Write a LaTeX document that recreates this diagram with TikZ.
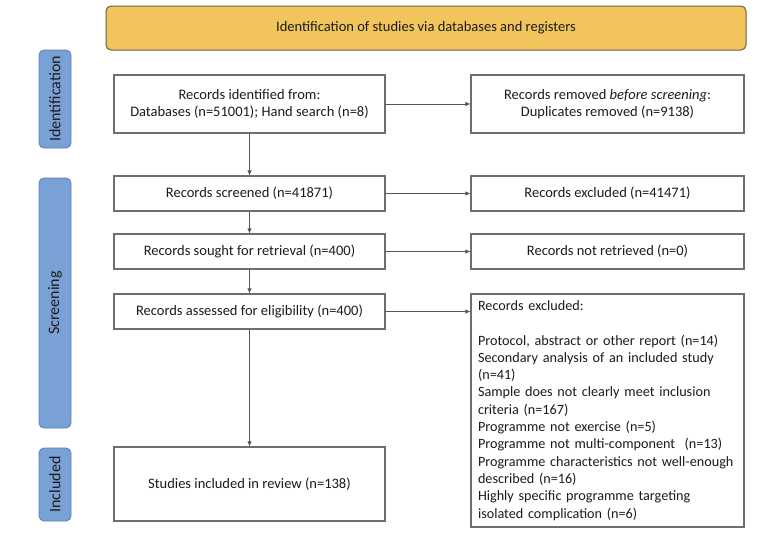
\documentclass[tikz,border=0pt]{standalone}
\usepackage{fontspec}
\setmainfont{Carlito}
\usetikzlibrary{arrows.meta}
\definecolor{bannerfill}{HTML}{F2C55C}
\definecolor{bannerline}{HTML}{6B5E45}
\definecolor{barfill}{HTML}{79A1D5}
\definecolor{barline}{HTML}{5A7FB5}
\definecolor{boxline}{HTML}{6E6E6E}
\definecolor{txt}{HTML}{1C1C1C}
\definecolor{arrowline}{HTML}{555555}
\begin{document}
\begin{tikzpicture}[x=1pt,y=-1pt,
  every node/.style={text=txt,font=\fontsize{14.5}{17.3}\selectfont},
  banner/.style={draw=bannerline,fill=bannerfill,rounded corners=5pt,line width=1pt,
    minimum width=640pt,minimum height=44pt,inner sep=0pt,font=\fontsize{14.5}{17}\selectfont},
  sidebar/.style={draw=barline,fill=barfill,rounded corners=5pt,line width=0.8pt,
    rotate=90,minimum height=32pt,inner sep=0pt,font=\fontsize{16}{18}\selectfont,text=txt},
  flowbox/.style={draw=boxline,line width=1.1pt,fill=white,inner sep=0pt,align=center},
  lbox/.style={flowbox,minimum width=271pt},
  rbox/.style={flowbox,minimum width=273pt},
  conn/.style={draw=arrowline,line width=0.7pt,-{Latex[length=5pt,width=4.5pt]}}
]
\useasboundingbox (0,0) rectangle (768,536);
\fill[white] (0,0) rectangle (768,536);

\node[banner] (banner) at (426,28) {Identification of studies via databases and registers};

\node[sidebar,minimum width=98pt] (sid) at (55,99) {Identification};
\node[sidebar,minimum width=250pt] (sscr) at (55,303) {Screening};
\node[sidebar,minimum width=73pt] (sinc) at (55,484.5) {Included};

\node[lbox,minimum height=58pt] (ident) at (249.5,104) {Records identified from:\\Databases (n=51001); Hand search (n=8)};
\node[rbox,minimum height=58pt] (removed) at (607.5,104) {Records removed \textit{before screening}:\\Duplicates removed (n=9138)};

\node[lbox,minimum height=35pt] (screened) at (249.5,193.5) {Records screened (n=41871)};
\node[rbox,minimum height=35pt] (excl1) at (607.5,193.5) {Records excluded (n=41471)};

\node[lbox,minimum height=35pt] (sought) at (249.5,251.5) {Records sought for retrieval (n=400)};
\node[rbox,minimum height=35pt] (notret) at (607.5,251.5) {Records not retrieved (n=0)};

\node[lbox,minimum height=35pt] (assessed) at (249.5,311.5) {Records assessed for eligibility (n=400)};
\node[flowbox,align=left,text width=259pt,inner xsep=7pt,minimum height=233pt,
  font=\fontsize{14.2}{17.3}\selectfont] (excl2) at (607.5,410.5) {Records excluded:\\[17.3pt]
Protocol, abstract or other report (n=14)\\
Secondary analysis of an included study\\
(n=41)\\
Sample does not clearly meet inclusion\\
criteria (n=167)\\
Programme not exercise (n=5)\\
Programme not multi-component~~(n=13)\\
Programme characteristics not well-enough\\
described (n=16)\\
Highly specific programme targeting\\
isolated complication (n=6)};

\node[lbox,minimum height=74pt] (included) at (249.5,484) {Studies included in review (n=138)};

\draw[conn] (ident) -- (removed);
\draw[conn] (screened) -- (excl1);
\draw[conn] (sought) -- (notret);
\draw[conn] (assessed.east) -- (assessed.east -| excl2.west);
\draw[conn] (ident) -- (screened);
\draw[conn] (screened) -- (sought);
\draw[conn] (sought) -- (assessed);
\draw[conn] (assessed) -- (included);
\end{tikzpicture}
\end{document}
